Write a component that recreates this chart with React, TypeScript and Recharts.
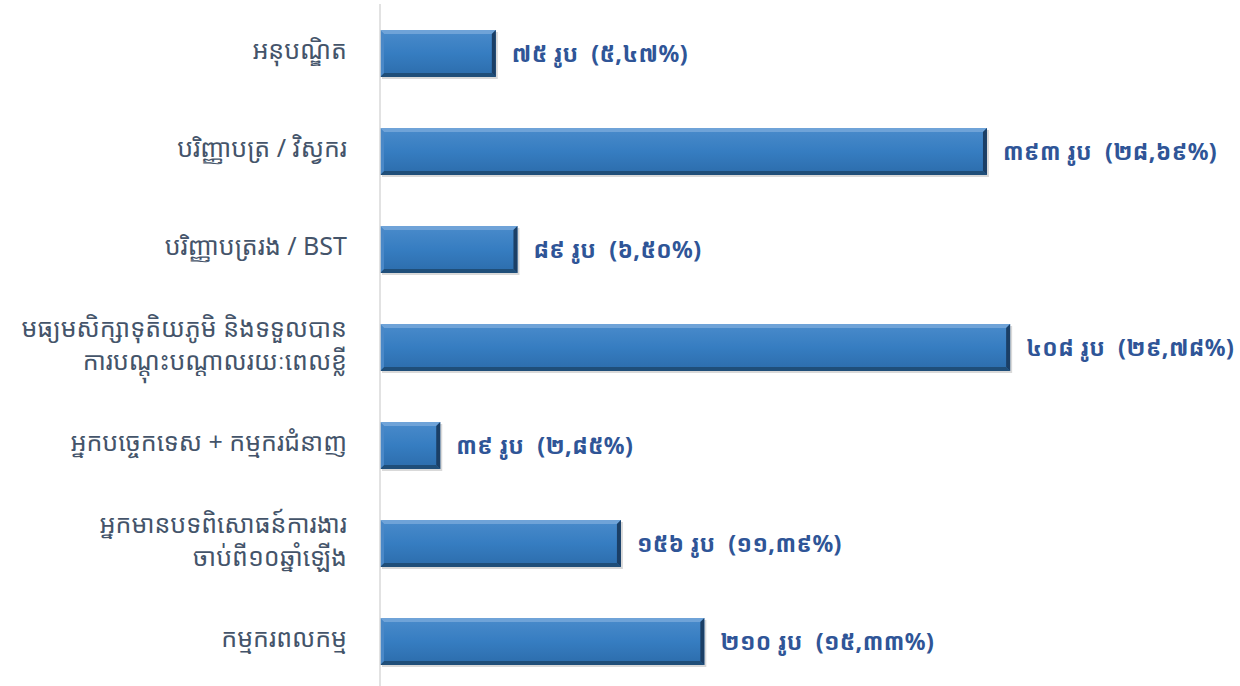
import React from 'react';
import { BarChart, Bar, XAxis, YAxis, LabelList } from 'recharts';

const categories = [
  'អនុបណ្ឌិត',
  'បរិញ្ញាបត្រ / វិស្វករ',
  'បរិញ្ញាបត្ររង / BST',
  'មធ្យមសិក្សាទុតិយភូមិ និងទទួលបាន\nការបណ្ដុះបណ្ដាលរយៈពេលខ្លី',
  'អ្នកបច្ចេកទេស + កម្មករជំនាញ',
  'អ្នកមានបទពិសោធន៍ការងារ\nចាប់ពី១០ឆ្នាំឡើង',
  'កម្មករពលកម្ម',
];
const counts = [75, 393, 89, 408, 39, 156, 210];
const valueLabels = [
  '៧៥ រូប  (៥,៤៧%)',
  '៣៩៣ រូប  (២៨,៦៩%)',
  '៨៩ រូប  (៦,៥០%)',
  '៤០៨ រូប  (២៩,៧៨%)',
  '៣៩ រូប  (២,៨៥%)',
  '១៥៦ រូប  (១១,៣៩%)',
  '២១០ រូប  (១៥,៣៣%)',
];

const data = categories.map((c, i) => ({ name: c, value: counts[i], label: valueLabels[i] }));

const FONT = '"Noto Sans Khmer", "Khmer OS", "Noto Sans", "DejaVu Sans", sans-serif';

const CategoryTick = (props: any) => {
  const { x, y, payload } = props;
  const lines = String(payload.value).split('\n');
  const lh = 33;
  const start = -((lines.length - 1) * lh) / 2;
  return (
    <text x={x} y={y} textAnchor="end" fill="#44546A" fontSize={25} fontFamily={FONT}>
      {lines.map((l, i) => (
        <tspan key={i} x={x} dy={i === 0 ? start + 6 : lh}>
          {l}
        </tspan>
      ))}
    </text>
  );
};

const BevelBar = (props: any) => {
  const { x, y, width, height } = props;
  if (!width || width <= 0) return null;
  const b = 4;
  return (
    <g>
      <rect x={x + 2} y={y + 2} width={width} height={height} fill="#000" opacity={0.15} />
      <rect x={x} y={y} width={width} height={height} fill="url(#barGrad)" />
      <polygon points={`${x},${y} ${x + width},${y} ${x + width - b},${y + b} ${x + b},${y + b}`} fill="#6FA3D8" />
      <polygon points={`${x + width},${y} ${x + width},${y + height} ${x + width - b},${y + height - b} ${x + width - b},${y + b}`} fill="#1B3F66" />
      <polygon points={`${x},${y + height} ${x + width},${y + height} ${x + width - b},${y + height - b} ${x + b},${y + height - b}`} fill="#1F4E79" />
      <polygon points={`${x},${y} ${x + b},${y + b} ${x + b},${y + height - b} ${x},${y + height}`} fill="#4A88C7" />
    </g>
  );
};

const ValueLabel = (props: any) => {
  const { x, y, width, height, value } = props;
  return (
    <text
      x={x + width + 16}
      y={y + height / 2 + 8}
      fill="#2F5597"
      fontSize={23}
      fontWeight="bold"
      fontFamily={FONT}
      letterSpacing={0.4}
      textAnchor="start"
      style={{ whiteSpace: 'pre' }}
    >
      {value}
    </text>
  );
};

export default function App() {
  return (
    <div style={{ position: 'absolute', left: 0, top: 0, width: 1240, height: 686, overflow: 'hidden', background: '#fff' }}>
      <BarChart
        width={1240}
        height={694}
        data={data}
        layout="vertical"
        margin={{ top: 4, right: 165, bottom: 4, left: 0 }}
        barSize={47}
      >
        <defs>
          <linearGradient id="barGrad" x1="0" y1="0" x2="0" y2="1">
            <stop offset="0%" stopColor="#4A8BCB" />
            <stop offset="50%" stopColor="#367DC1" />
            <stop offset="100%" stopColor="#2C6CAB" />
          </linearGradient>
        </defs>
        <XAxis type="number" domain={[0, 450]} hide />
        <YAxis
          type="category"
          dataKey="name"
          width={380}
          tickLine={false}
          tickSize={0}
          tickMargin={33}
          axisLine={{ stroke: '#D9D9D9', strokeWidth: 1.5 }}
          tick={<CategoryTick />}
          interval={0}
        />
        <Bar dataKey="value" shape={<BevelBar />} isAnimationActive={false}>
          <LabelList dataKey="label" content={<ValueLabel />} />
        </Bar>
      </BarChart>
    </div>
  );
}
